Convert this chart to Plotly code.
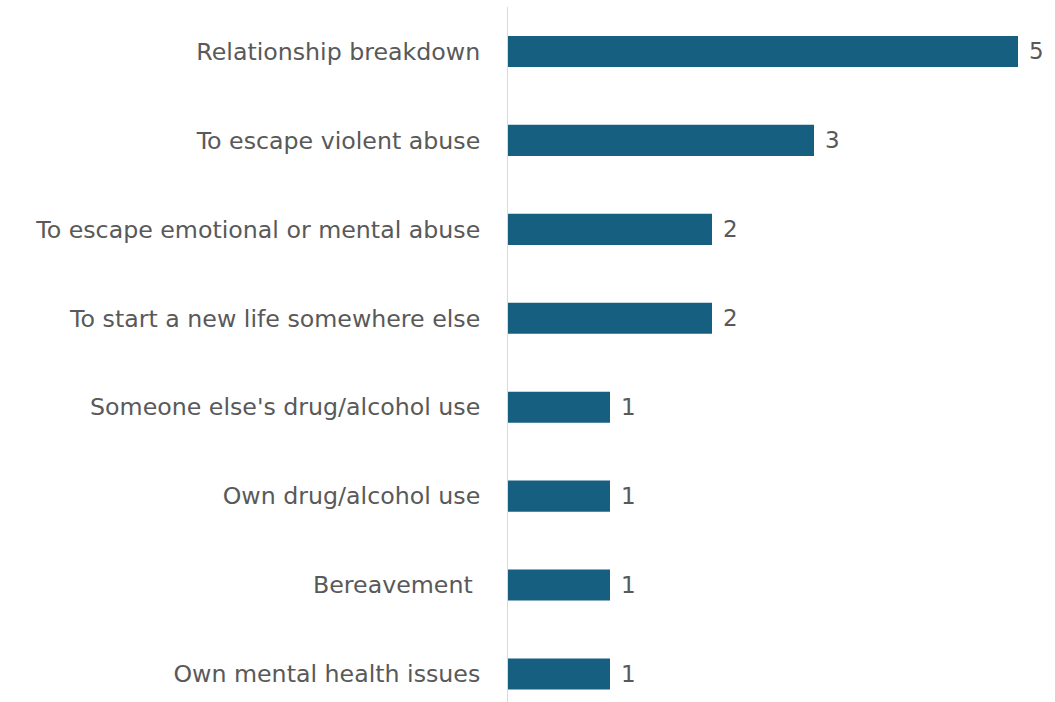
import plotly.graph_objects as go

reasons = [
    "Relationship breakdown",
    "To escape violent abuse",
    "To escape emotional or mental abuse",
    "To start a new life somewhere else",
    "Someone else's drug/alcohol use",
    "Own drug/alcohol use",
    "Bereavement ",
    "Own mental health issues",
]
counts = [5, 3, 2, 2, 1, 1, 1, 1]

bar_color = "#175f80"
text_color = "#595959"
font_family = "DejaVu Sans, sans-serif"

fig = go.Figure(
    go.Bar(
        x=counts,
        y=reasons,
        orientation="h",
        marker=dict(color=bar_color, line=dict(width=0)),
        width=0.35,
        hoverinfo="skip",
    )
)

# value labels just to the right of each bar
for r, c in zip(reasons, counts):
    fig.add_annotation(
        x=c, y=r, text=str(c), showarrow=False,
        xanchor="left", yanchor="middle", xshift=9,
        font=dict(size=23, color=text_color, family=font_family),
    )

fig.update_layout(
    width=1055,
    height=702,
    margin=dict(l=508, r=0, t=7, b=0),
    paper_bgcolor="white",
    plot_bgcolor="white",
    showlegend=False,
    xaxis=dict(
        range=[0, 547 / 102],
        visible=False,
        showgrid=False,
        zeroline=False,
    ),
    yaxis=dict(
        categoryorder="array",
        categoryarray=reasons,
        range=[7.315, -0.5],
        showgrid=False,
        zeroline=False,
        showline=True,
        linecolor="#d9d9d9",
        linewidth=1,
        ticks="",
        ticklabelstandoff=22,
        tickfont=dict(size=23.7, color=text_color, family=font_family),
    ),
)

fig.write_html("out.html")
